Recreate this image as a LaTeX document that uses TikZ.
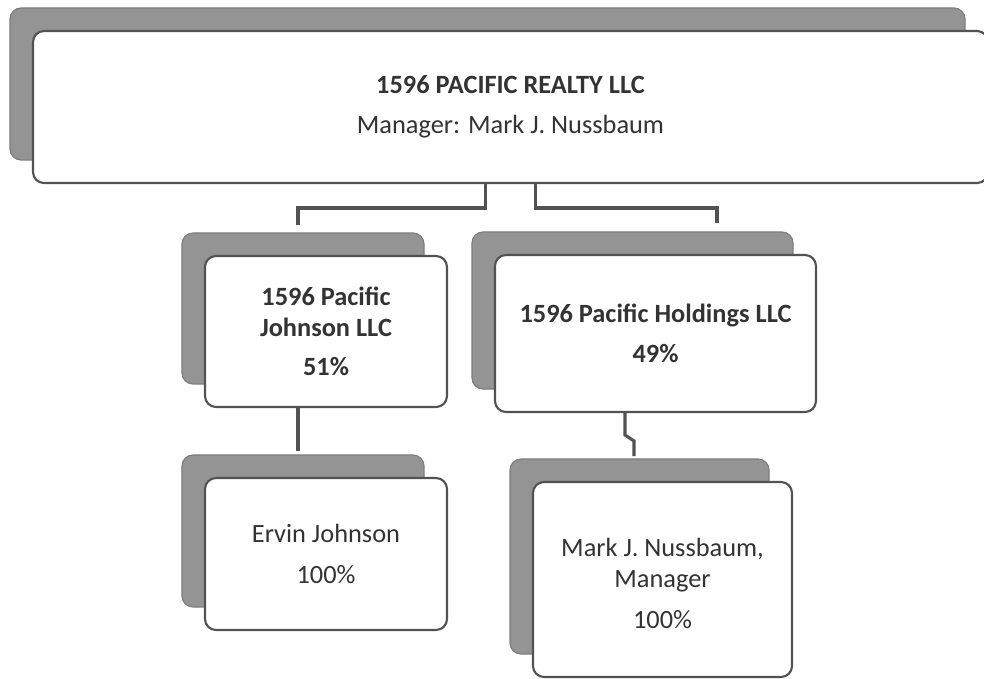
\documentclass[tikz,border=0pt]{standalone}
\usepackage{fontspec}
\setmainfont{Carlito}
\usetikzlibrary{shadows}
\definecolor{backgr}{gray}{0.58}
\definecolor{txt}{gray}{0.2}
\definecolor{edge}{gray}{0.32}
\tikzset{
box/.style={draw=edge,line width=1.8pt,fill=white,rounded corners=0.33cm,inner sep=0pt,
 align=center,text=txt,font=\fontsize{22.5}{26.4}\selectfont,
 copy shadow={shadow xshift=-0.69cm,shadow yshift=0.69cm,fill=backgr,draw=backgr!85!black,line width=1pt}},
link/.style={draw=edge,line width=2.7pt}
}
\begin{document}
\begin{tikzpicture}[x=0.03cm,y=-0.03cm,semithick]
\useasboundingbox(0,0)rectangle(984,679);
\node[box,minimum width=28.65cm,minimum height=4.56cm](realty)at(510.5,107)
{\textbf{1596 PACIFIC REALTY LLC}\\[8pt]Manager: Mark J. Nussbaum};
\node[box,minimum width=7.26cm,minimum height=4.53cm](johnson)at(326,331.5)
{\textbf{1596 Pacific}\\\textbf{Johnson LLC}\\[7pt]\textbf{51\%}};
\node[box,minimum width=9.63cm,minimum height=4.71cm](holdings)at(655.5,333.5)
{\textbf{1596 Pacific Holdings LLC}\\[8pt]\textbf{49\%}};
\node[box,minimum width=7.26cm,minimum height=4.56cm](ervin)at(326,554)
{Ervin Johnson\\[8pt]100\%};
\node[box,minimum width=7.77cm,minimum height=5.85cm](mark)at(662.5,579.5)
{\\[-4pt]Mark J. Nussbaum,\\Manager\\[9pt]100\%};
% bus and drops
\coordinate(bl)at(298,208);\coordinate(br)at(717,208);
\coordinate(jt)at(298,225);\coordinate(ht)at(717,223);
\coordinate(et)at(298,451);
\coordinate(z1)at(625,435);\coordinate(z2)at(634,441);\coordinate(mt)at(634,456);
\draw[link]([xshift=-0.74cm]realty.south)|-(bl)--(jt)([xshift=0.76cm]realty.south)|-(br)--(ht);
\draw[link](johnson.south-|bl)--(et);
\draw[link](holdings.south-|z1)--(z1)--(z2)--(mt);
\end{tikzpicture}
\end{document}
